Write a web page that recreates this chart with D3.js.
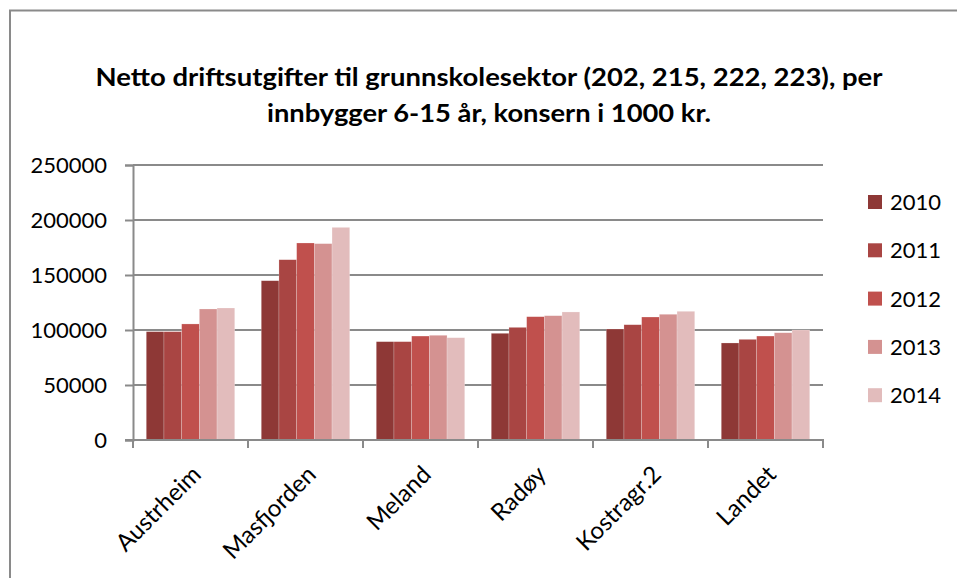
<!DOCTYPE html>
<html>
<head>
<meta charset="utf-8">
<script src="https://cdn.jsdelivr.net/npm/d3@7"></script>
<style>
  body { margin: 0; background: #fff; }
  svg { display: block; font-family: Lato, "Open Sans", sans-serif; }
</style>
</head>
<body>
<svg id="chart"></svg>
<script>
// 数据
const categories = ["Austrheim", "Masfjorden", "Meland", "Radøy", "Kostragr.2", "Landet"];
const years = ["2010", "2011", "2012", "2013", "2014"];
const v2010 = [98500, 144800, 89400, 97000, 100900, 88200];
const v2011 = [98500, 163900, 89400, 102400, 104800, 91500];
const v2012 = [105500, 179100, 94500, 112100, 111800, 94500];
const v2013 = [119100, 178500, 95200, 113000, 114300, 97500];
const v2014 = [120000, 193300, 93000, 116400, 117000, 100000];
const yTicks = [0, 50000, 100000, 150000, 200000, 250000];
const titleLines = ["Netto driftsutgifter til grunnskolesektor (202, 215, 222, 223), per",
                    "innbygger 6-15 år, konsern i 1000 kr."];

const series = [v2010, v2011, v2012, v2013, v2014];
const colors = ["#8e3836", "#a94543", "#c0504d", "#d49291", "#e2bcbc"];

const W = 957, H = 578;
const svg = d3.select("#chart").attr("width", W).attr("height", H);

// 外框
svg.append("path")
  .attr("d", `M10,${H} V10.5 H${W}`)
  .attr("fill", "none")
  .attr("stroke", "#8a8a8a")
  .attr("stroke-width", 2);

// 标题
const titleWidths = [787, 444];
titleLines.forEach((t, i) => {
  svg.append("text")
    .attr("x", 489)
    .attr("y", 86 + i * 36)
    .attr("text-anchor", "middle")
    .attr("font-weight", "bold")
    .attr("font-size", 24)
    .attr("textLength", titleWidths[i])
    .attr("lengthAdjust", "spacingAndGlyphs")
    .attr("fill", "#000")
    .text(t);
});

// 比例尺
const x = d3.scaleBand().domain(categories).range([133, 823]);
const xInner = d3.scaleBand().domain(years).range([0, x.bandwidth()])
  .paddingInner(0).paddingOuter(0.75);
const y = d3.scaleLinear().domain([0, 250000]).range([440, 165]);

// 网格线
svg.append("g")
  .selectAll("line")
  .data(yTicks.filter(d => d > 0))
  .enter()
  .append("line")
  .attr("x1", 133).attr("x2", 823)
  .attr("y1", d => y(d)).attr("y2", d => y(d))
  .attr("stroke", "#8a8a8a")
  .attr("stroke-width", 2);

// 柱子
const groups = svg.append("g")
  .selectAll("g")
  .data(series)
  .enter()
  .append("g")
  .attr("fill", (d, i) => colors[i]);

groups.selectAll("rect")
  .data((d, i) => d.map((v, j) => ({ v, cat: categories[j], year: years[i] })))
  .enter()
  .append("rect")
  .attr("x", d => x(d.cat) + xInner(d.year))
  .attr("y", d => y(d.v))
  .attr("width", xInner.bandwidth())
  .attr("height", d => y(0) - y(d.v))
  .attr("stroke", "rgba(255,255,255,0.35)")
  .attr("stroke-width", 0.6);

// Y 轴
const yAxis = svg.append("g")
  .attr("transform", "translate(133,0)")
  .call(d3.axisLeft(y).tickValues(yTicks).tickSize(8).tickPadding(18).tickFormat(d3.format("d")));
yAxis.select(".domain").attr("stroke", "#8a8a8a").attr("stroke-width", 2);
yAxis.selectAll(".tick line").attr("stroke", "#8a8a8a").attr("stroke-width", 2);
yAxis.selectAll(".tick text").attr("font-size", 22).attr("font-family", "Lato").attr("fill", "#000");

// X 轴
const xAxisG = svg.append("g").attr("transform", "translate(0,440)");
xAxisG.append("line")
  .attr("x1", 125).attr("x2", 824)
  .attr("stroke", "#8a8a8a").attr("stroke-width", 2);
xAxisG.selectAll("line.tk")
  .data(categories.concat(["end"]))
  .enter()
  .append("line")
  .attr("class", "tk")
  .attr("x1", (d, i) => i < categories.length ? x(d) : x.range()[1])
  .attr("x2", (d, i) => i < categories.length ? x(d) : x.range()[1])
  .attr("y1", 0).attr("y2", 8)
  .attr("stroke", "#8a8a8a").attr("stroke-width", 2);

xAxisG.selectAll("text")
  .data(categories)
  .enter()
  .append("text")
  .attr("transform", d => `translate(${x(d) + x.bandwidth() / 2 + 12},${36}) rotate(-45)`)
  .attr("text-anchor", "end")
  .attr("font-size", 24)
  .attr("fill", "#000")
  .text(d => d);

// 图例
const legend = svg.append("g")
  .selectAll("g")
  .data(years)
  .enter()
  .append("g")
  .attr("transform", (d, i) => `translate(868,${202 + i * 48.3})`);
legend.append("rect")
  .attr("x", 0).attr("y", -7)
  .attr("width", 14).attr("height", 14)
  .attr("fill", (d, i) => colors[i]);
legend.append("text")
  .attr("x", 22).attr("y", 8)
  .attr("font-size", 22)
  .attr("fill", "#000")
  .text(d => d);
</script>
</body>
</html>
